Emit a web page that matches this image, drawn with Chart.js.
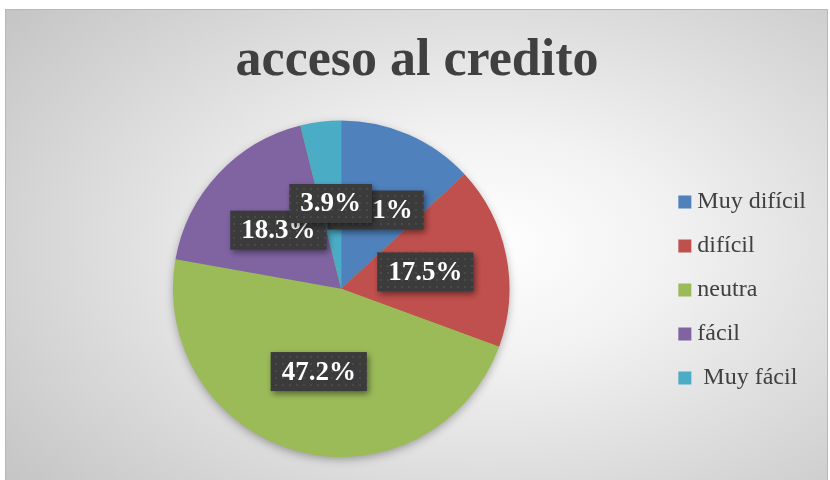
<!DOCTYPE html>
<html>
<head>
<meta charset="utf-8">
<script src="https://cdn.jsdelivr.net/npm/chart.js@4"></script>
<style>
  body { margin: 0; background: #fff; }
  #box {
    position: absolute; left: 5px; top: 9px; width: 821px; height: 471px;
    border: 1px solid #b8b8b8; border-bottom: none;
    background: radial-gradient(ellipse 75% 80% at 58% 50%, #ffffff 0%, #f2f2f2 30%, #c4c4c4 100%);
  }
  canvas { display: block; }
</style>
</head>
<body>
<div id="box"><canvas id="myChart" width="821" height="471"></canvas></div>
<script>
labels = ['Muy difícil', 'difícil', 'neutra', 'fácil', ' Muy fácil'];
values = [13.1, 17.5, 47.2, 18.3, 3.9];
colors = ['#4F81BD', '#C0504D', '#9BBB59', '#8064A2', '#4BACC6'];
chartTitle = 'acceso al credito';

// dotted dark fill for the value boxes
function dotPattern(ctx){
    const c = document.createElement('canvas');
    c.width = 7; c.height = 7;
    const g = c.getContext('2d');
    g.fillStyle = '#3b3b3b';
    g.fillRect(0, 0, 7, 7);
    g.fillStyle = '#4a4a4a';
    g.fillRect(3, 3, 2, 2);
    return ctx.createPattern(c, 'repeat');
}

const pieShadow = {
    id: 'pieShadow',
    beforeDatasetsDraw(chart){
        const arc = chart.getDatasetMeta(0).data[0];
        if(!arc) return;
        const ctx = chart.ctx;
        ctx.save();
        ctx.shadowColor = 'rgba(0,0,0,0.35)';
        ctx.shadowBlur = 10;
        ctx.shadowOffsetY = 3;
        ctx.fillStyle = '#9BBB59';
        ctx.beginPath();
        ctx.arc(arc.x, arc.y, arc.outerRadius - 1, 0, Math.PI * 2);
        ctx.fill();
        ctx.restore();
    }
};

const valueBoxes = {
    id: 'valueBoxes',
    afterDatasetsDraw(chart){
        const ctx = chart.ctx;
        const fill = dotPattern(ctx);
        chart.getDatasetMeta(0).data.forEach((arc, i) => {
            const p = arc.getProps(['x', 'y', 'startAngle', 'endAngle', 'outerRadius'], true);
            const mid = (p.startAngle + p.endAngle) / 2;
            const r = p.outerRadius * 0.51;
            const x = p.x + Math.cos(mid) * r;
            const y = p.y + Math.sin(mid) * r;
            const text = values[i].toFixed(1) + '%';
            ctx.save();
            ctx.font = 'bold 27px "Liberation Serif", serif';
            const w = ctx.measureText(text).width + 22;
            const h = 39;
            ctx.shadowColor = 'rgba(0,0,0,0.45)';
            ctx.shadowBlur = 6;
            ctx.shadowOffsetX = 2;
            ctx.shadowOffsetY = 3;
            ctx.fillStyle = fill;
            ctx.fillRect(x - w / 2, y - h / 2, w, h);
            ctx.shadowColor = 'transparent';
            ctx.fillStyle = '#ffffff';
            ctx.textAlign = 'center';
            ctx.textBaseline = 'middle';
            ctx.fillText(text, x, y + 1);
            ctx.restore();
        });
    }
};

function makeChart(){
    const ctx = document.getElementById('myChart');
    new Chart(ctx, {
        type: 'pie',
        data: {
            labels: labels,
            datasets: [{
                data: values,
                backgroundColor: colors,
                borderWidth: 0
            }]
        },
        options: {
            responsive: false,
            animation: false,
            layout: { padding: { left: 12, right: 11, top: 0, bottom: 24 } },
            plugins: {
                title: {
                    display: true,
                    text: chartTitle,
                    color: '#404040',
                    font: { family: '"Liberation Serif", serif', size: 52, weight: 'bold' },
                    padding: { top: 20, bottom: 28 }
                },
                legend: {
                    position: 'right',
                    title: { display: true, text: ' ', font: { size: 1 }, padding: { top: 112, bottom: 0 } },
                    labels: {
                        color: '#404040',
                        usePointStyle: true,
                        pointStyle: 'rect',
                        boxWidth: 1,
                        boxHeight: 13,
                        padding: 20,
                        font: { family: '"Liberation Serif", serif', size: 24 }
                    }
                },
                tooltip: { enabled: false }
            }
        },
        plugins: [pieShadow, valueBoxes]
    });
}

makeChart();
</script>
</body>
</html>
